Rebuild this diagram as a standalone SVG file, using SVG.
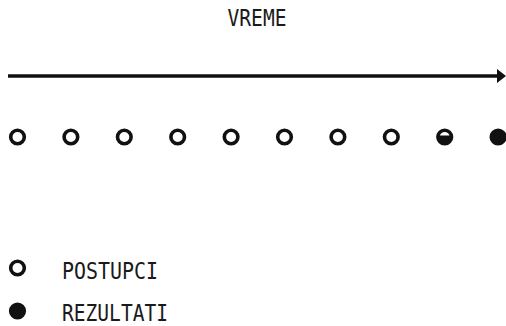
<svg xmlns="http://www.w3.org/2000/svg" width="506" height="326" viewBox="0 0 506 326">
  <style>
    .lbl { font-family: "DejaVu Sans Mono", "Liberation Mono", monospace; font-size: 23px; fill: #1a1a1a; }
    .open { fill: #fff; stroke: #111; stroke-width: 3.6; }
    .full { fill: #111; }
  </style>
  <defs>
    <marker id="ah" viewBox="0 0 9 14" refX="0" refY="7" markerWidth="9" markerHeight="14" markerUnits="userSpaceOnUse" orient="auto">
      <path d="M0,0 L9,7 L0,14 Z" fill="#111"/>
    </marker>
  </defs>
  <rect width="506" height="326" fill="#fff"/>
  <g id="title"><text class="lbl" x="257" y="26" text-anchor="middle" textLength="59" lengthAdjust="spacingAndGlyphs">VREME</text></g>
  <g id="connectors">
    <line x1="8" y1="76" x2="497" y2="76" stroke="#111" stroke-width="3.3" marker-end="url(#ah)"/>
  </g>
  <g id="n1"><circle class="open" cx="17.5" cy="137" r="6.8"/></g>
  <g id="n2"><circle class="open" cx="70.9" cy="137" r="6.8"/></g>
  <g id="n3"><circle class="open" cx="124.3" cy="137" r="6.8"/></g>
  <g id="n4"><circle class="open" cx="177.7" cy="137" r="6.8"/></g>
  <g id="n5"><circle class="open" cx="231.1" cy="137" r="6.8"/></g>
  <g id="n6"><circle class="open" cx="284.5" cy="137" r="6.8"/></g>
  <g id="n7"><circle class="open" cx="337.9" cy="137" r="6.8"/></g>
  <g id="n8"><circle class="open" cx="391.3" cy="137" r="6.8"/></g>
  <g id="n9">
    <circle class="full" cx="444.7" cy="137" r="8.6"/>
    <path d="M439.93,135.5 A5 5 0 0 1 449.47,135.5 Z" fill="#fff"/>
  </g>
  <g id="n10"><circle class="full" cx="498.1" cy="137" r="8.6"/></g>
  <g id="legend-postupci">
    <circle class="open" cx="17.5" cy="268" r="6.8"/>
    <text class="lbl" x="62" y="279" textLength="96" lengthAdjust="spacingAndGlyphs">POSTUPCI</text>
  </g>
  <g id="legend-rezultati">
    <circle class="full" cx="17.5" cy="311" r="8.6"/>
    <text class="lbl" x="62" y="321" textLength="106" lengthAdjust="spacingAndGlyphs">REZULTATI</text>
  </g>
</svg>
